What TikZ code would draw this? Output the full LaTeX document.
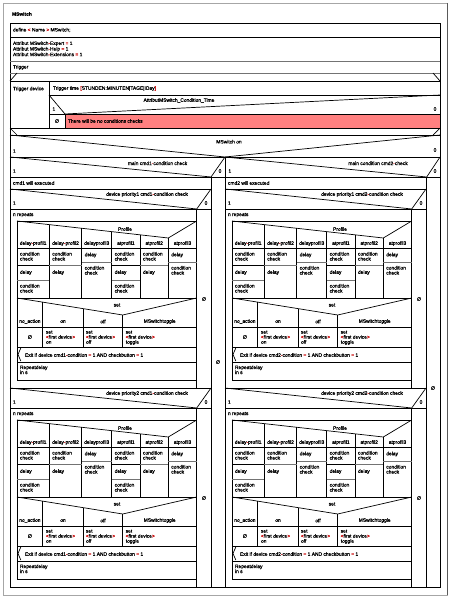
\documentclass[tikz,border=0pt]{standalone}
\usepackage{fontspec}
\setmainfont{Liberation Sans}[FakeBold=0.9]
\newfontfamily\djv{DejaVu Sans}[FakeBold=1.2]
\definecolor{opred}{RGB}{200,0,0}
\definecolor{fillred}{RGB}{255,128,128}
\newcommand{\rd}[1]{\textcolor{opred}{#1}}
\newcommand{\nul}{{\djv ∅}}
\newcommand{\cc}{condition\\check}
\newcommand{\dpblock}[4]{%
\begin{scope}[shift={(#1,#2)}]
 \draw[ln] (10,189) rectangle (211,388);
 \draw[ln] (10,189) -- (196.7,209) -- (211,189);
 \draw[ln] (10,209) -- (211,209);
 \draw[ln] (196.7,209) -- (196.7,388);
 \node[tc] (dpq#3#4) at (147,194.5) {device priority#3 cmd#4\rd{-}condition check};
 \node[tl] (dpt#3#4) at (13,203) {1};
 \node[tc] (dpf#3#4) at (206,203) {0};
 \node[tc] (dpn#3#4) at (204,299) {\nul};
 \node[tl] (rep#3#4) at (13,215) {n repeats};
 \draw[ln] (17,221) rectangle (196.7,380);
 % Profile case
 \draw[ln] (17,221) -- (168.3,238) -- (196.7,221);
 \node[tc] at (125,229) {Profile};
 \foreach \x in {49.3,81.7,111.7,140,168.3} {\draw[ln] (\x,{221+17*(\x-17)/151.3}) -- (\x,298);}
 \draw[ln] (17,248) -- (196.7,248);
 \node[tc] at (33.15,243.5) {delay\rd{-}profil1};
 \node[tc] at (65.5,243.5) {delay\rd{-}profil2};
 \node[tc] at (96.7,243.5) {delayprofil3};
 \node[tc] at (125.85,243.5) {atprofil1};
 \node[tc] at (154.15,243.5) {atprofil2};
 \node[tc] at (182.5,243.5) {atprofil3};
 % col 1 and 4
 \foreach \a/\b in {17/49.3,111.7/140} {
   \draw[ln] (\a,265) -- (\b,265);
   \draw[gln] (\a,280) -- (\b,280);
   \node[tnw] at (\a+3,252) {\cc};
   \node[tl] at (\a+3,272.5) {delay};
   \node[tnw] at (\a+3,284) {\cc};
 }
 % col 2 and 5
 \foreach \a/\b in {49.3/81.7,140/168.3} {
   \draw[gln] (\a,265) -- (\b,265);
   \node[tnw] at (\a+3,252) {\cc};
   \node[tl] at (\a+3,272.5) {delay};
 }
 % col 3 and 6
 \foreach \a/\b in {81.7/111.7,168.3/196.7} {
   \draw[gln] (\a,262) -- (\b,262);
   \node[tl] at (\a+3,255) {delay};
   \node[tnw] at (\a+3,266) {\cc};
 }
 % set case
 \draw[ln] (17,298) -- (196.7,298);
 \draw[ln] (17,298) -- (122.7,315) -- (196.7,298);
 \node[tc] at (117,305) {set};
 \foreach \x in {42.7,83.3,122.7} {\draw[ln] (\x,{298+17*(\x-17)/105.7}) -- (\x,347);}
 \draw[ln] (17,327) -- (196.7,327);
 \node[tc] at (29.85,321.5) {no\_action};
 \node[tc] at (63,321.5) {on};
 \node[tc] at (103,321.5) {off};
 \node[tc] at (159.7,321.5) {MSwitchtoggle};
 \node[tc] at (29.85,337) {\nul};
 \node[tnw] at (46,330.5) {set\\\rd{<}first device\rd{>}\\on};
 \node[tnw] at (86,330.5) {set\\\rd{<}first device\rd{>}\\off};
 \node[tnw] at (125.7,330.5) {set\\\rd{<}first device\rd{>}\\toggle};
 \draw[ln] (17,347) -- (196.7,347);
 % exit
 \draw[ln] (20.8,348) -- (18,354.5) -- (20.8,361);
 \node[tl] at (25,355) {Exit if device cmd#4\rd{-}condition \rd{=} 1 AND checkbutton \rd{=} 1};
 \draw[ln] (17,362) -- (196.7,362);
 \node[tnw] at (20,365.5) {Repeatdelay\\in s};
\end{scope}}
\begin{document}
\begin{tikzpicture}[x=1pt,y=-1pt,
  font=\fontsize{4.9}{5}\selectfont,
  ln/.style={line width=0.7pt,draw=black},
  gln/.style={line width=0.7pt,draw=black!55},
  every node/.style={inner sep=0pt,outer sep=0pt},
  tl/.style={anchor=west,align=left},
  tc/.style={anchor=center,align=center},
  tnw/.style={anchor=north west,align=left}]
\useasboundingbox (0,0) rectangle (464,599);
% page frame
\draw[line width=0.8pt,draw=black!35] (3,595) -- (3,3) -- (447.5,3);
\draw[line width=0.8pt,draw=black!35] (3,595) -- (447.5,595);
\draw[line width=0.9pt,draw=black!65] (447.5,3) -- (447.5,595);
\node[tl,font=\fontsize{4.9}{5}\selectfont\bfseries] (title) at (12,14) {MSwitch};
% main box
\draw[ln] (10,23) rectangle (440,587);
\draw[ln] (10,37) -- (440,37);
\draw[gln] (10,61) -- (440,61);
\draw[gln] (10,73) -- (440,73);
\node[tl] (def) at (13,30) {define \rd{<} Name \rd{>} MSwitch;};
\node[tl,font=\fontsize{4.9}{5.6}\selectfont] (attr) at (13,48.8) {Attribut MSwitch\rd{-}Expert \rd{=} 1\\Attribut MSwitch\rd{-}Help \rd{=} 1\\Attribut MSwitch\rd{-}Extensions \rd{=} 1};
\node[tl] (trig) at (13,67.3) {Trigger};
% parallel top
\draw[ln] (10,81) -- (440,81);
\draw[ln] (10,81) -- (17,73);
\draw[ln] (433,73) -- (440,81);
\draw[ln] (49,81) -- (49,128);
\node[tl] (tdev) at (13,89) {Trigger device};
\draw[ln] (49,95) -- (440,95);
\node[tl] (ttime) at (53,88.5) {Trigger time \rd{[}STUNDEN:MINUTEN|TAGE|IDay\rd{]}};
% condition time decision
\draw[ln] (49,95) -- (65,114) -- (440,95);
\draw[ln] (49,114) -- (440,114);
\node[tc] (ctq) at (179,100.5) {AttributMSwitch\_Condition\_Time};
\node[tl] (ct1) at (52.5,109) {1};
\node[tc] (ct0) at (435,109) {0};
\fill[fillred] (65,114) rectangle (440,128);
\draw[ln] (65,114) -- (65,128);
\draw[ln] (65,114) -- (440,114);
\node[tc] (ctn) at (57,121) {\nul};
\node[tl] (ctno) at (68,121) {There will be no conditions checks};
% parallel bottom
\draw[ln] (10,128) -- (440,128);
\draw[ln] (10,135) -- (440,135);
\draw[ln] (10,128) -- (17,135);
\draw[ln] (433,135) -- (440,128);
% MSwitch on
\draw[ln] (10,135) -- (225,157) -- (440,135);
\draw[ln] (10,157) -- (440,157);
\node[tc] (mon) at (229,141.7) {MSwitch on};
\node[tl] (mon1) at (13,151) {1};
\node[tc] (mon0) at (435,150) {0};
\draw[ln] (225,157) -- (225,587);
% cmd1 check
\draw[ln] (10,157) -- (211,177) -- (225,157);
\draw[ln] (10,177) -- (225,177);
\node[tc] (c1q) at (157.5,163.3) {main cmd1\rd{-}condition check};
\node[tl] (c11) at (13,171) {1};
\node[tc] (c10) at (220,171) {0};
\draw[ln] (211,177) -- (211,587);
\node[tc] (c1n) at (218,362) {\nul};
% cmd2 check
\draw[ln] (225,157) -- (426.7,177) -- (440,157);
\draw[ln] (225,177) -- (440,177);
\node[tc] (c2q) at (378,163.3) {main condition cmd2\rd{-}check};
\node[tl] (c21) at (228.5,171) {1};
\node[tc] (c20) at (435,171) {0};
\draw[ln] (426.7,177) -- (426.7,587);
\node[tc] (c2n) at (433,388) {\nul};
% will executed rows
\draw[ln] (10,189) -- (211,189);
\draw[ln] (225,189) -- (426.7,189);
\node[tl] (c1x) at (13,183) {cmd1 will executed};
\node[tl] (c2x) at (228,183) {cmd2 will executed};
% blocks
\dpblock{0}{0}{1}{1}
\dpblock{0}{199}{2}{1}
\dpblock{215}{0}{1}{2}
\dpblock{215}{199}{2}{2}
\end{tikzpicture}
\end{document}
